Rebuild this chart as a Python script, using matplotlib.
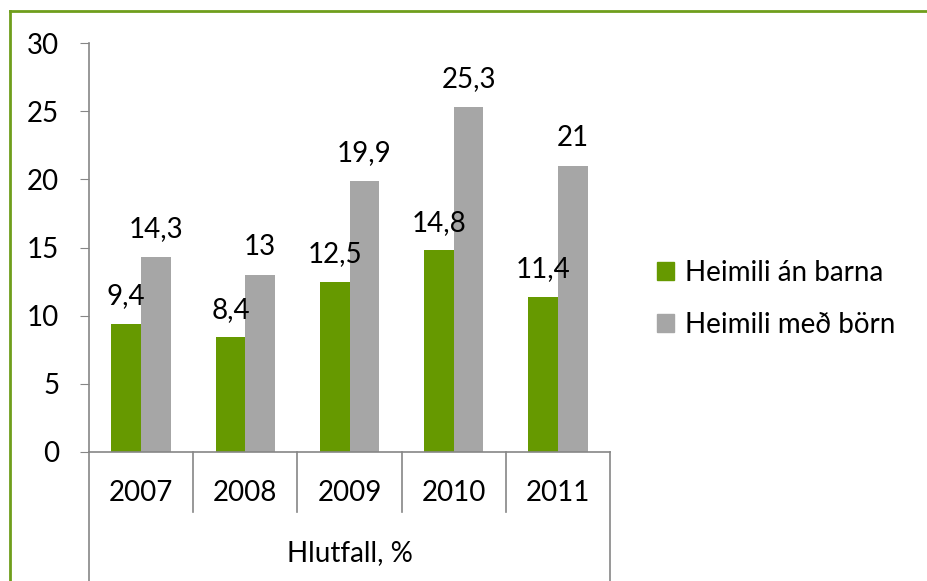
import matplotlib.pyplot as plt
import matplotlib.transforms as mtransforms
from matplotlib.lines import Line2D
from matplotlib.patches import Patch

plt.rcParams['font.family'] = ['Lato', 'DejaVu Sans']

years = ['2007', '2008', '2009', '2010', '2011']
an_barna = [9.4, 8.4, 12.5, 14.8, 11.4]
med_born = [14.3, 13, 19.9, 25.3, 21]
series_names = ['Heimili án barna', 'Heimili með börn']
group_label = 'Hlutfall, %'

green = '#669900'
gray = '#a6a6a6'
axis_col = '#868686'

fig = plt.figure(figsize=(9.27, 5.81), dpi=100)
ax = fig.add_axes([89 / 927, 129 / 581, 521 / 927, 409 / 581])

w = 0.285
x = [i + 0.5 for i in range(len(years))]
b1 = ax.bar([p - w / 2 for p in x], an_barna, w, color=green)
b2 = ax.bar([p + w / 2 for p in x], med_born, w, color=gray)


def fmt(v):
    if v == int(v):
        return str(int(v))
    return str(v).replace('.', ',')


for bars, vals in [(b1, an_barna), (b2, med_born)]:
    for r, v in zip(bars, vals):
        ax.annotate(fmt(v), (r.get_x() + r.get_width() / 2, v),
                    xytext=(0, 10.5), textcoords='offset points',
                    ha='center', va='bottom', fontsize=20)

ax.set_xlim(0, 5)
ax.set_ylim(0, 30)
ax.set_yticks(range(0, 31, 5))
ax.tick_params(axis='y', labelsize=20, length=6.5, color=axis_col, pad=15)
ax.set_xticks([])
for s in ['top', 'right']:
    ax.spines[s].set_visible(False)
for s in ['left', 'bottom']:
    ax.spines[s].set_color(axis_col)
    ax.spines[s].set_linewidth(1.2)

# multi-level category axis below the plot
trans = mtransforms.blended_transform_factory(ax.transData, ax.transAxes)
for i in range(1, len(years)):
    ax.plot([i, i], [0, -0.147], transform=trans, color=axis_col,
            lw=1.2, clip_on=False)
for i in [0, len(years)]:
    ax.plot([i, i], [0, -0.35], transform=trans, color=axis_col,
            lw=1.2, clip_on=False)
for p, yr in zip(x, years):
    ax.text(p, -0.100, yr, transform=trans, ha='center', va='center',
            fontsize=20)
ax.text(2.5, -0.247, group_label, transform=trans, ha='center',
        va='center', fontsize=20)

handles = [Patch(color=green), Patch(color=gray)]
fig.legend(handles, series_names, loc='center left',
           bbox_to_anchor=(632 / 927, 1 - 299 / 581), frameon=False,
           fontsize=20, handlelength=0.62, handleheight=0.62,
           handletextpad=0.38, labelspacing=0.95)

# green frame around the chart
fig.add_artist(Line2D([9.5 / 927, 9.5 / 927], [0, 1 - 10.5 / 581],
                      color='#6f9e1c', lw=2, transform=fig.transFigure))
fig.add_artist(Line2D([9.5 / 927, 1], [1 - 10.5 / 581, 1 - 10.5 / 581],
                      color='#6f9e1c', lw=2, transform=fig.transFigure))

fig.savefig('out.png', dpi=100)
